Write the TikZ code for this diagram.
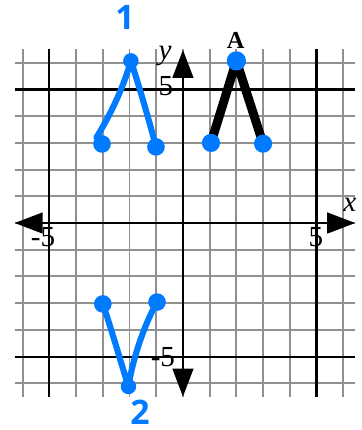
\documentclass[tikz,border=0pt]{standalone}
\usepackage{fontspec}
\setmainfont{Liberation Serif}
\newfontfamily\handfont{Open Sans}
\usetikzlibrary{arrows.meta}

\definecolor{penblue}{RGB}{0,122,255}
\definecolor{gridgray}{RGB}{145,145,145}

\begin{document}
\begin{tikzpicture}[
  gridline/.style={gridgray, line width=2pt},
  majorline/.style={black, line width=2.2pt},
  axis/.style={{Triangle[length=1.05cm,width=0.78cm]}-{Triangle[length=1.05cm,width=0.78cm]}, line width=2.2pt},
  lbl/.style={font=\fontsize{31}{31}\selectfont, inner sep=0pt},
  ablk/.style={line width=9.5pt, line cap=round, line join=round},
  pen/.style={penblue, line width=6.5pt, line cap=round, line join=round},
  bdot/.style={circle, fill=penblue, inner sep=0pt, minimum size=0.68cm},
  hand/.style={penblue, font=\handfont\bfseries\fontsize{36}{36}\selectfont, inner sep=0pt}
]
\useasboundingbox (-6.85,-7.75) rectangle (6.67,8.35);

% grid
\foreach \i in {-6,...,6} {
  \draw[gridline] (\i,-6.5) -- (\i,6.5);
  \draw[gridline] (-6.3,\i) -- (6.45,\i);
}
\foreach \i in {-5,5} {
  \draw[majorline] (\i,-6.5) -- (\i,6.5);
  \draw[majorline] (-6.3,\i) -- (6.45,\i);
}

% axes
\coordinate (xl) at (-6.3,0);
\coordinate (xr) at (6.45,0);
\coordinate (yb) at (0,-6.5);
\coordinate (yt) at (0,6.48);
\draw[axis] (xl) -- (xr);
\draw[axis] (yb) -- (yt);

\node[lbl] (ylab) at (-0.67,6.25) {\itshape y};
\node[lbl] (xlab) at (6.25,0.67) {\itshape x};
\node[lbl] (yfive) at (-0.64,5.13) {5};
\node[lbl] (ymfive) at (-0.75,-5.02) {-5};
\node[lbl] (xfive) at (4.98,-0.52) {5};
\node[lbl] (xmfive) at (-5.24,-0.52) {-5};

% figure A
\coordinate (a1) at (1.05,3.0);
\coordinate (a2) at (2.0,6.07);
\coordinate (a3) at (3.0,2.97);
\draw[ablk] (a1) -- (a2) -- (a3);
\node[bdot] (da1) at (a1) {};
\node[bdot, minimum size=0.72cm] (da2) at (a2) {};
\node[bdot] (da3) at (a3) {};
\node[font=\bfseries\fontsize{26}{26}\selectfont, inner sep=0pt] (alab) at (1.97,6.85) {A};

% image 1
\coordinate (p1l) at (-3.03,2.96);
\coordinate (p1t) at (-1.95,6.07);
\coordinate (p1r) at (-1.01,2.85);
\draw[pen] (-3.24,3.2) .. controls (-2.75,4.0) and (-2.25,5.0) .. (p1t)
  .. controls (-1.6,5.0) and (-1.2,3.6) .. (p1r);
\node[bdot, minimum size=0.66cm] (d1l) at (p1l) {};
\node[bdot, minimum size=0.58cm] (d1t) at (p1t) {};
\node[bdot, minimum size=0.66cm] (d1r) at (p1r) {};
\node[hand] (one) at (-2.17,7.68) {1};

% image 2
\coordinate (p2l) at (-3.0,-3.03);
\coordinate (p2b) at (-2.04,-6.12);
\coordinate (p2r) at (-0.97,-2.96);
\draw[pen] (p2l) .. controls (-2.7,-3.9) and (-2.3,-5.3) .. (p2b)
  .. controls (-1.9,-5.2) and (-1.5,-3.9) .. (p2r);
\node[bdot, minimum size=0.66cm] (d2l) at (p2l) {};
\node[bdot, minimum size=0.58cm] (d2b) at (p2b) {};
\node[bdot, minimum size=0.66cm] (d2r) at (p2r) {};
\node[hand] (two) at (-1.61,-7.08) {2};

\end{tikzpicture}
\end{document}
